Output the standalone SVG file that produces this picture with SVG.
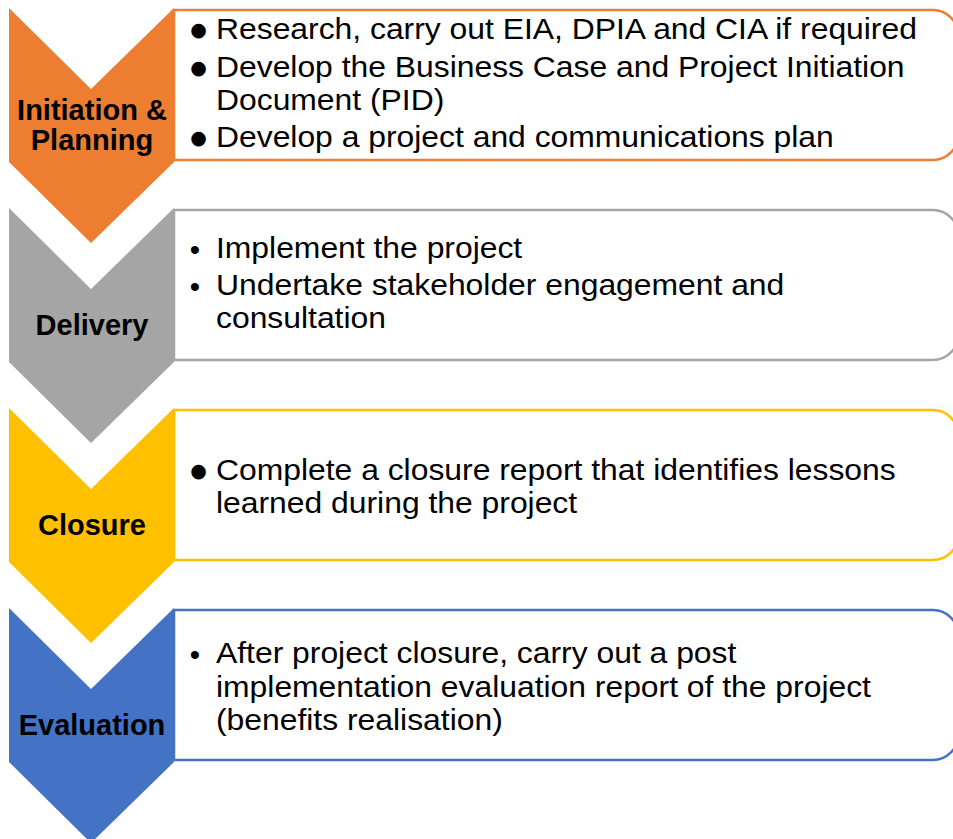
<svg xmlns="http://www.w3.org/2000/svg" width="953" height="839" viewBox="0 0 953 839">
  <style>
    .label { font-family: "Liberation Sans", Arial, sans-serif; font-weight: bold; font-size: 29px; fill: #000; text-anchor: middle; }
    .body { font-family: "Liberation Sans", Arial, sans-serif; font-size: 29.5px; fill: #000; }
    .dot { fill: #000; text-anchor: middle; }
    .dot-lg { font-family: "DejaVu Sans", sans-serif; font-size: 19px; }
    .dot-sm { font-family: "Liberation Sans", Arial, sans-serif; font-size: 29.5px; }
    .box { fill: #fff; stroke-width: 2.5; }
  </style>
  <defs>
    <!-- chevron step shape, drawn at the origin and moved per stage -->
    <polygon id="chevron" points="9,8 91,89 174,8 174,162 91,243 9,162"/>
    <!-- content panel with rounded right end -->
    <path id="panel" d="M174,10 H933 A25,25 0 0 1 958,35 V135 A25,25 0 0 1 933,160 H174 Z"/>
  </defs>

  <!-- Stage 1: Initiation & Planning -->
  <g id="stage-initiation">
    <use href="#chevron" fill="#ED7D31"/>
    <use href="#panel" class="box" stroke="#ED7D31"/>
    <text class="label" x="92" y="120">Initiation &amp;</text>
    <text class="label" x="92" y="150">Planning</text>
    <text class="dot dot-lg" x="198.5" y="35.5">●</text>
    <text class="dot dot-lg" x="198.5" y="73.5">●</text>
    <text class="dot dot-lg" x="198.5" y="143.5">●</text>
    <g transform="translate(216,0) scale(1.08,1)">
      <text class="body" x="0" y="39">Research, carry out EIA, DPIA and CIA if required</text>
      <text class="body" x="0" y="77">Develop the Business Case and Project Initiation</text>
      <text class="body" x="0" y="110">Document (PID)</text>
      <text class="body" x="0" y="147">Develop a project and communications plan</text>
    </g>
  </g>

  <!-- Stage 2: Delivery -->
  <g id="stage-delivery" transform="translate(0,200)">
    <use href="#chevron" fill="#A5A5A5"/>
    <use href="#panel" class="box" stroke="#A5A5A5"/>
    <text class="label" x="92" y="135">Delivery</text>
    <text class="dot dot-sm" x="195" y="60">•</text>
    <text class="dot dot-sm" x="195" y="97">•</text>
    <g transform="translate(216,0) scale(1.08,1)">
      <text class="body" x="0" y="58">Implement the project</text>
      <text class="body" x="0" y="95">Undertake stakeholder engagement and</text>
      <text class="body" x="0" y="128">consultation</text>
    </g>
  </g>

  <!-- Stage 3: Closure -->
  <g id="stage-closure" transform="translate(0,400)">
    <use href="#chevron" fill="#FFC000"/>
    <use href="#panel" class="box" stroke="#FFC000"/>
    <text class="label" x="92" y="135">Closure</text>
    <text class="dot dot-lg" x="198.5" y="76.5">●</text>
    <g transform="translate(216,0) scale(1.08,1)">
      <text class="body" x="0" y="80">Complete a closure report that identifies lessons</text>
      <text class="body" x="0" y="113">learned during the project</text>
    </g>
  </g>

  <!-- Stage 4: Evaluation -->
  <g id="stage-evaluation" transform="translate(0,600)">
    <use href="#chevron" fill="#4472C4"/>
    <use href="#panel" class="box" stroke="#4472C4"/>
    <text class="label" x="92" y="135">Evaluation</text>
    <text class="dot dot-sm" x="195" y="65">•</text>
    <g transform="translate(216,0) scale(1.08,1)">
      <text class="body" x="0" y="63">After project closure, carry out a post</text>
      <text class="body" x="0" y="97">implementation evaluation report of the project</text>
      <text class="body" x="0" y="130">(benefits realisation)</text>
    </g>
  </g>

  <!-- no connectors: the stages are stacked chevrons -->
  <g id="connectors"/>
</svg>
